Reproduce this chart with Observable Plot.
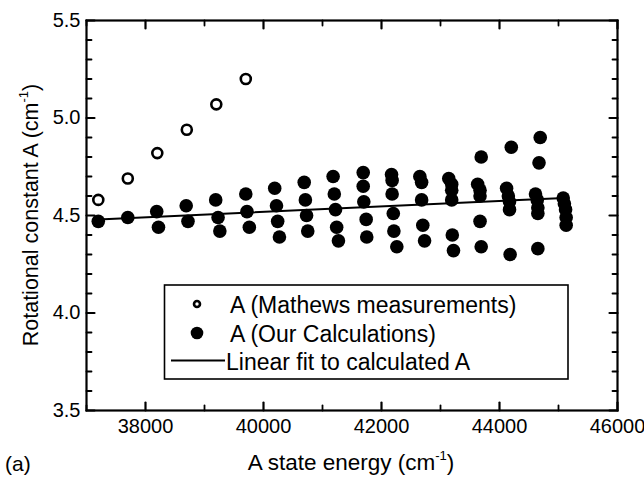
<!DOCTYPE html>
<html>
<head>
<meta charset="utf-8">
<script src="https://cdn.jsdelivr.net/npm/d3@7"></script>
<script src="https://cdn.jsdelivr.net/npm/@observablehq/plot@0.6"></script>
<style>
  body { margin: 0; background: white; }
  #wrap { position: relative; width: 644px; height: 480px; font-family: Arial, "Liberation Sans", sans-serif; color: black; }
  .lbl { position: absolute; font-size: 22.5px; white-space: nowrap; line-height: 1; }
  .lbl sup { font-size: 13px; vertical-align: 10px; line-height: 0; }
</style>
</head>
<body>
<div id="wrap"></div>
<script>
// Mathews measurements (open circles)
const mathewsE = [37200, 37700, 38200, 38700, 39200, 39700];
const mathewsA = [4.58, 4.69, 4.82, 4.94, 5.07, 5.20];

// Our calculations (filled circles)
const calcE = [
  37200,
  37700,
  38190, 38220,
  38690, 38720,
  39190, 39230, 39260,
  39700, 39720, 39760,
  40190, 40220, 40240, 40270,
  40690, 40710, 40730, 40750,
  41180, 41200, 41220, 41240, 41270,
  41690, 41690, 41700, 41740, 41750,
  42170, 42180, 42180, 42200, 42210, 42260,
  42650, 42680, 42680, 42700, 42730,
  43140, 43190, 43190, 43190, 43200, 43220,
  43690, 43630, 43670, 43670, 43670, 43690,
  44200, 44120, 44150, 44170, 44170, 44180,
  44690, 44670, 44610, 44640, 44650, 44650, 44650,
  45080, 45100, 45120, 45130, 45130
];
const calcA = [
  4.47,
  4.49,
  4.52, 4.44,
  4.55, 4.47,
  4.58, 4.49, 4.42,
  4.61, 4.52, 4.44,
  4.64, 4.55, 4.47, 4.39,
  4.67, 4.58, 4.50, 4.42,
  4.70, 4.61, 4.53, 4.44, 4.37,
  4.72, 4.65, 4.57, 4.48, 4.39,
  4.71, 4.68, 4.61, 4.51, 4.42, 4.34,
  4.70, 4.67, 4.58, 4.45, 4.37,
  4.69, 4.66, 4.63, 4.58, 4.40, 4.32,
  4.80, 4.66, 4.63, 4.60, 4.47, 4.34,
  4.85, 4.64, 4.60, 4.57, 4.53, 4.30,
  4.90, 4.77, 4.61, 4.58, 4.54, 4.51, 4.33,
  4.59, 4.56, 4.53, 4.49, 4.45
];

// Linear fit to calculated A (endpoints)
const fitE = [37200, 45100];
const fitA = [4.48, 4.59];

// Ticks
const xMajor = [38000, 40000, 42000, 44000, 46000];
const xMinor = [37000, 39000, 41000, 43000, 45000];
const yMajor = [3.5, 4.0, 4.5, 5.0, 5.5];
const yMinor = [3.6, 3.7, 3.8, 3.9, 4.1, 4.2, 4.3, 4.4, 4.6, 4.7, 4.8, 4.9, 5.1, 5.2, 5.3, 5.4];

// Labels
const xLabel = "A state energy (cm<sup>-1</sup>)";
const yLabel = "Rotational constant A (cm<sup>-1</sup>)";
const panelLabel = "(a)";
const legendLabels = ["A (Mathews measurements)", "A (Our Calculations)", "Linear fit to calculated A"];

const mathews = mathewsE.map((e, i) => ({e, a: mathewsA[i]}));
const calc = calcE.map((e, i) => ({e, a: calcA[i]}));
const fit = fitE.map((e, i) => ({e, a: fitA[i]}));
const MAJ = 8, MIN = 5;

// plain line-segment shape for inward ticks
const stick = {draw(context, l) { context.moveTo(0, 0); context.lineTo(0, -l); }};
function ticksX(values, len, anchor, sw) {
  return Plot.vector(values, {x: d => d, frameAnchor: anchor, length: len, rotate: anchor === "bottom" ? 0 : 180,
    anchor: "start", shape: stick, stroke: "black", strokeWidth: sw});
}
function ticksY(values, len, anchor, sw) {
  return Plot.vector(values, {y: d => d, frameAnchor: anchor, length: len, rotate: anchor === "left" ? 90 : -90,
    anchor: "start", shape: stick, stroke: "black", strokeWidth: sw});
}

const plot = Plot.plot({
  width: 644,
  height: 480,
  marginLeft: 86,
  marginRight: 27,
  marginTop: 20,
  marginBottom: 70,
  style: {fontFamily: 'Arial, "Liberation Sans", sans-serif', fontSize: "20px", color: "black", background: "white"},
  x: {domain: [37000, 46000], label: null},
  y: {domain: [3.5, 5.5], label: null},
  marks: [
    // tick labels
    Plot.axisX(xMajor, {anchor: "bottom", tickSize: 0, tickPadding: 8, tickFormat: d => String(d), label: null, fontSize: 20}),
    Plot.axisY(yMajor, {anchor: "left", tickSize: 0, tickPadding: 6, tickFormat: d => d.toFixed(1), label: null, fontSize: 20}),
    // inward ticks on all four sides
    ticksX(xMajor, MAJ, "bottom", 2.2),
    ticksX(xMinor, MIN, "bottom", 1.8),
    ticksX(xMajor, MAJ, "top", 2.2),
    ticksX(xMinor, MIN, "top", 1.8),
    ticksY(yMajor, MAJ, "left", 2.2),
    ticksY(yMinor, MIN, "left", 1.8),
    ticksY(yMajor, MAJ, "right", 2.2),
    ticksY(yMinor, MIN, "right", 1.8),
    Plot.frame({stroke: "black", strokeWidth: 2.2}),
    Plot.line(fit, {x: "e", y: "a", stroke: "black", strokeWidth: 2}),
    Plot.dot(calc, {x: "e", y: "a", r: 6.8, fill: "black", stroke: "none"}),
    Plot.dot(mathews, {x: "e", y: "a", r: 5, fill: "white", stroke: "black", strokeWidth: 2.6})
  ]
});

const wrap = document.getElementById("wrap");
wrap.appendChild(plot);
plot.style.position = "absolute";
plot.style.left = "0px";
plot.style.top = "0px";

function addLabel(html, css) {
  const d = document.createElement("div");
  d.className = "lbl";
  d.innerHTML = html;
  Object.assign(d.style, css);
  wrap.appendChild(d);
  return d;
}

// x axis label centered under plot
addLabel(xLabel, {left: "351px", top: "452px", transform: "translateX(-50%)"});
addLabel(panelLabel, {left: "5px", top: "453px", fontSize: "21px"});
// y axis label rotated
addLabel(yLabel, {left: "32px", top: "215px", fontSize: "21.5px", transform: "translate(-50%, -50%) rotate(-90deg)"});

// Legend box
const ns = "http://www.w3.org/2000/svg";
const lg = document.createElementNS(ns, "svg");
lg.setAttribute("width", 644);
lg.setAttribute("height", 480);
lg.style.position = "absolute";
lg.style.left = "0px";
lg.style.top = "0px";
lg.style.pointerEvents = "none";
lg.innerHTML = `
  <rect x="164.5" y="285" width="403.5" height="94" fill="white" stroke="black" stroke-width="1.6"/>
  <circle cx="197" cy="304" r="3" fill="white" stroke="black" stroke-width="2.6"/>
  <circle cx="197" cy="333" r="6.3" fill="black"/>
  <line x1="171" x2="225" y1="360.5" y2="360.5" stroke="black" stroke-width="2"/>
  <g font-family='Arial, "Liberation Sans", sans-serif' font-size="23" fill="black">
    <text x="230" y="313">${legendLabels[0]}</text>
    <text x="230" y="342">${legendLabels[1]}</text>
    <text x="226" y="370">${legendLabels[2]}</text>
  </g>`;
wrap.appendChild(lg);
</script>
</body>
</html>
